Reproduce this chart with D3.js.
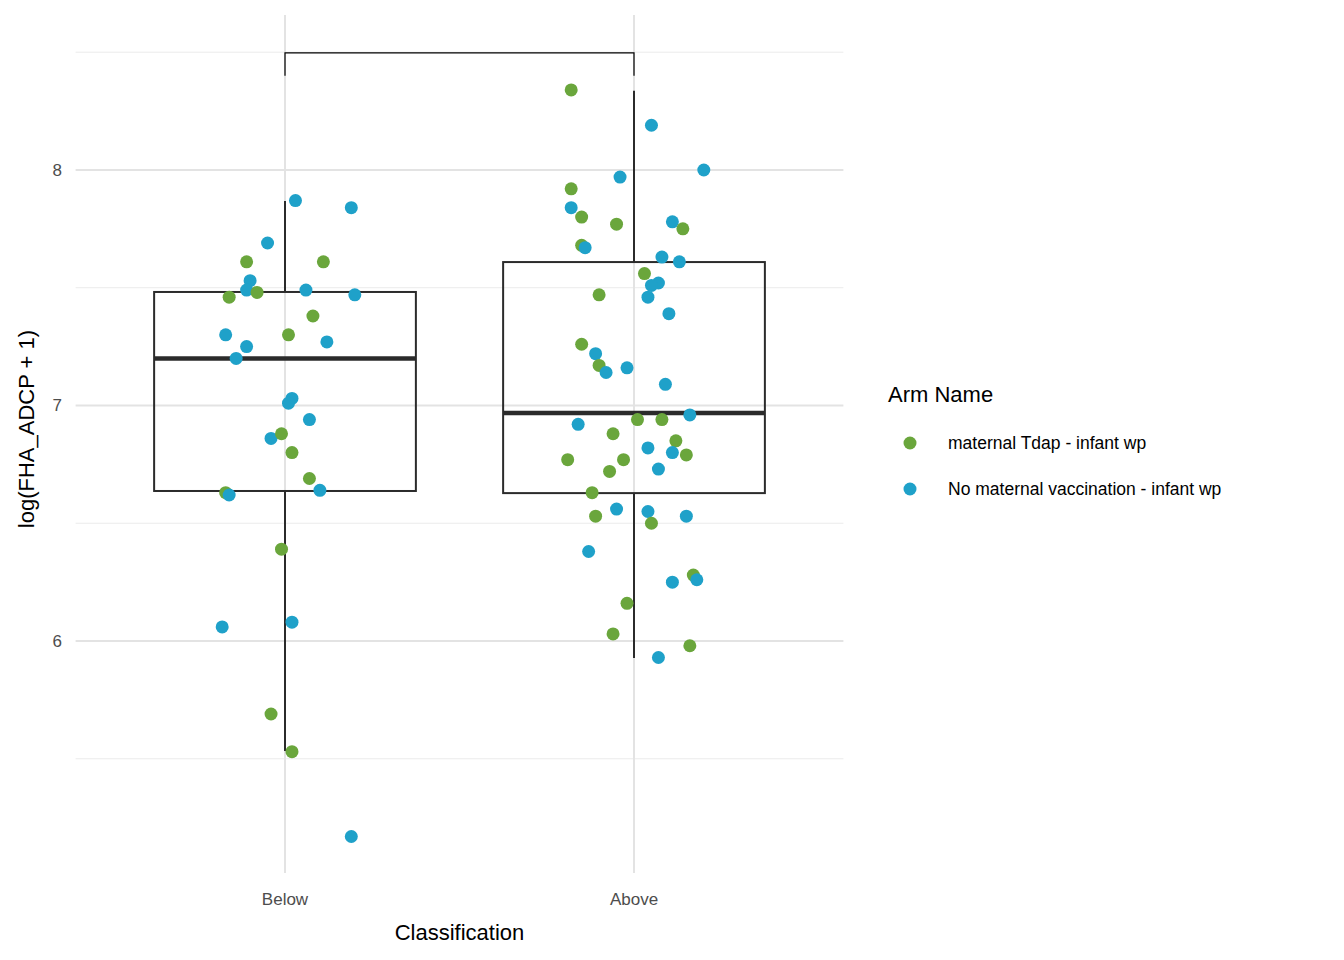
<!DOCTYPE html>
<html><head><meta charset="utf-8">
<script src="https://cdn.jsdelivr.net/npm/d3@7"></script>
<style>body{margin:0;background:#fff;font-family:"Liberation Sans",Arial,sans-serif;}</style>
</head><body>
<svg id="chart" width="1344" height="960"></svg>
<script>
var categories = ["Below", "Above"];
var arms = ["maternal Tdap - infant wp", "No maternal vaccination - infant wp"];
var armColors = ["#6aa63c", "#1fa1c9"];
var yTicks = [6, 7, 8];
// box stats: [q1, median, q3, whiskerLow, whiskerHigh]
var boxStats = [
  [6.637, 7.20, 7.482, 5.533, 7.868],
  [6.628, 6.968, 7.609, 5.928, 8.336]
];
// points: [category index, jitter, value, arm index]
var belowPts = [
  [-0.11,7.61,0],[-0.05,7.69,1],[0.11,7.61,0],[0.03,7.87,1],[0.19,7.84,1],[-0.10,7.53,1],
  [-0.11,7.49,1],[-0.08,7.48,0],[-0.16,7.46,0],[0.06,7.49,1],[0.20,7.47,1],[0.08,7.38,0],
  [-0.17,7.30,1],[0.01,7.30,0],[0.12,7.27,1],[-0.11,7.25,1],[-0.14,7.20,1],[0.02,7.03,1],
  [0.01,7.01,1],[0.07,6.94,1],[-0.04,6.86,1],[-0.01,6.88,0],[0.02,6.80,0],[0.07,6.69,0],
  [-0.17,6.63,0],[-0.16,6.62,1],[0.10,6.64,1],[-0.01,6.39,0],[-0.18,6.06,1],[0.02,6.08,1],
  [-0.04,5.69,0],[0.02,5.53,0],[0.19,5.17,1]
];
var abovePts = [
  [-0.18,8.34,0],[0.05,8.19,1],[0.20,8.00,1],[-0.04,7.97,1],[-0.18,7.92,0],[-0.18,7.84,1],
  [-0.15,7.80,0],[-0.05,7.77,0],[0.11,7.78,1],[0.14,7.75,0],[-0.15,7.68,0],[-0.14,7.67,1],
  [0.08,7.63,1],[0.13,7.61,1],[0.03,7.56,0],[0.07,7.52,1],[0.05,7.51,1],[0.04,7.46,1],
  [-0.10,7.47,0],[0.10,7.39,1],[-0.15,7.26,0],[-0.11,7.22,1],[-0.10,7.17,0],[-0.08,7.14,1],
  [-0.02,7.16,1],[0.09,7.09,1],[-0.16,6.92,1],[0.01,6.94,0],[0.08,6.94,0],[0.16,6.96,1],
  [-0.06,6.88,0],[0.12,6.85,0],[0.04,6.82,1],[0.11,6.80,1],[0.15,6.79,0],[-0.19,6.77,0],
  [-0.03,6.77,0],[0.07,6.73,1],[-0.07,6.72,0],[-0.12,6.63,0],[-0.05,6.56,1],[0.04,6.55,1],
  [-0.11,6.53,0],[0.05,6.50,0],[0.15,6.53,1],[-0.13,6.38,1],[0.17,6.28,0],[0.11,6.25,1],
  [0.18,6.26,1],[-0.02,6.16,0],[-0.06,6.03,0],[0.07,5.93,1],[0.16,5.98,0]
];

var svg = d3.select("#chart");
var x = d3.scaleLinear().domain([0.4, 2.6]).range([75.6, 843.4]);
var y = d3.scaleLinear().domain([5.015, 8.658]).range([873, 15]);
var g = svg.append("g");

// grid
[5.5, 6.5, 7.5, 8.5].forEach(function(v) {
  g.append("line").attr("x1", x(0.4)).attr("x2", x(2.6)).attr("y1", y(v)).attr("y2", y(v))
    .attr("stroke", "#ebebeb").attr("stroke-width", 1);
});
yTicks.forEach(function(v) {
  g.append("line").attr("x1", x(0.4)).attr("x2", x(2.6)).attr("y1", y(v)).attr("y2", y(v))
    .attr("stroke", "#e3e3e3").attr("stroke-width", 2);
  g.append("text").attr("x", 62).attr("y", y(v)).attr("dy", "0.35em").attr("text-anchor", "end")
    .attr("font-size", 17).attr("fill", "#4d4d4d").text(v);
});
categories.forEach(function(c, i) {
  g.append("line").attr("x1", x(i + 1)).attr("x2", x(i + 1)).attr("y1", 15).attr("y2", 873)
    .attr("stroke", "#e3e3e3").attr("stroke-width", 2);
  g.append("text").attr("x", x(i + 1)).attr("y", 905).attr("text-anchor", "middle")
    .attr("font-size", 17).attr("fill", "#4d4d4d").text(c);
});

// boxes
boxStats.forEach(function(s, i) {
  var cx = x(i + 1), hw = x(i + 1.375) - cx;
  g.append("line").attr("x1", cx).attr("x2", cx).attr("y1", y(s[2])).attr("y2", y(s[4])).attr("stroke", "#2b2b2b").attr("stroke-width", 2);
  g.append("line").attr("x1", cx).attr("x2", cx).attr("y1", y(s[0])).attr("y2", y(s[3])).attr("stroke", "#2b2b2b").attr("stroke-width", 2);
  g.append("rect").attr("x", cx - hw).attr("width", 2 * hw).attr("y", y(s[2])).attr("height", y(s[0]) - y(s[2]))
    .attr("fill", "none").attr("stroke", "#2b2b2b").attr("stroke-width", 2);
  g.append("line").attr("x1", cx - hw).attr("x2", cx + hw).attr("y1", y(s[1])).attr("y2", y(s[1])).attr("stroke", "#2b2b2b").attr("stroke-width", 4.5);
});

// bracket
g.append("path").attr("d", d3.line()([[x(1), y(8.40)], [x(1), y(8.497)], [x(2), y(8.497)], [x(2), y(8.40)]]))
  .attr("fill", "none").attr("stroke", "#000").attr("stroke-width", 1.2);

// points
[belowPts, abovePts].forEach(function(pts, i) {
  g.selectAll(null).data(pts).enter().append("circle")
    .attr("cx", function(d) { return x(i + 1 + d[0]); })
    .attr("cy", function(d) { return y(d[1]); })
    .attr("r", 6.5)
    .attr("fill", function(d) { return armColors[d[2]]; });
});

// axis titles
svg.append("text").attr("x", x(1.5)).attr("y", 940).attr("text-anchor", "middle").attr("font-size", 22).attr("fill", "#000").text("Classification");
svg.append("text").attr("transform", "translate(34," + y(6.9) + ") rotate(-90)").attr("text-anchor", "middle").attr("font-size", 22).attr("fill", "#000").text("log(FHA_ADCP + 1)");

// legend
svg.append("text").attr("x", 888).attr("y", 402).attr("font-size", 22).attr("fill", "#000").text("Arm Name");
arms.forEach(function(a, i) {
  var ly = 443 + i * 46;
  svg.append("circle").attr("cx", 910).attr("cy", ly).attr("r", 6.5).attr("fill", armColors[i]);
  svg.append("text").attr("x", 948).attr("y", ly).attr("dy", "0.35em").attr("font-size", 17.5).attr("fill", "#000").text(a);
});
</script>
</body></html>
